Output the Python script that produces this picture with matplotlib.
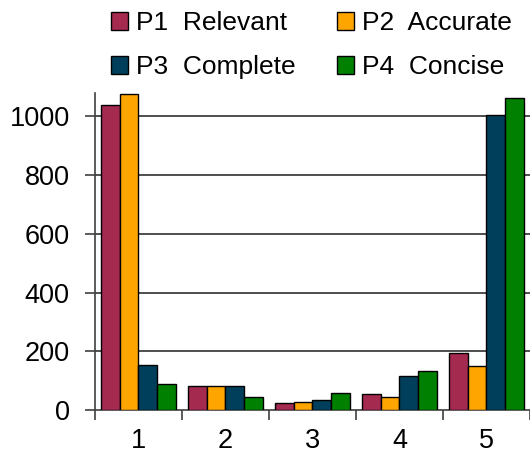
import numpy as np
import matplotlib.pyplot as plt

plt.rcParams.update({
    "font.family": ["Liberation Sans", "DejaVu Sans"],
    "axes.linewidth": 1.2,
})

# data
categorias = ["1", "2", "3", "4", "5"]
series = ["P1  Relevant", "P2  Accurate", "P3  Complete", "P4  Concise"]
p1 = [1040, 83, 23, 55, 195]
p2 = [1077, 83, 28, 43, 150]
p3 = [153, 83, 34, 114, 1006]
p4 = [89, 43, 59, 134, 1063]
valores = [p1, p2, p3, p4]
cores = ["#A52A50", "#FFA500", "#003F5C", "#008000"]

fig = plt.figure(figsize=(5.3, 4.53), dpi=100)
ax = fig.add_axes([0.179, 0.095, 0.821, 0.700])

x = np.arange(len(categorias))
largura = 0.214
barras = []
for i, (nome, vals, cor) in enumerate(zip(series, valores, cores)):
    b = ax.bar(x + (i - 1.5) * largura, vals, width=largura, color=cor,
               edgecolor="black", linewidth=1.0, label=nome, zorder=3)
    barras.append(b)

ax.set_xlim(-0.5, 4.5)
ax.set_ylim(0, 1080)

ax.set_yticks([0, 200, 400, 600, 800, 1000])
for y in [200, 400, 600, 800, 1000]:
    ax.axhline(y, color="#404040", linewidth=1.3, zorder=1)

ax.set_xticks(x)
ax.set_xticklabels(categorias)
ax.set_xticks(np.arange(-0.5, 5, 1), minor=True)
ax.tick_params(axis="x", which="major", length=0, pad=13, labelsize=19.5)
ax.tick_params(axis="x", which="minor", length=7, width=1.2, color="#404040")
ax.tick_params(axis="y", which="major", length=7, width=1.2, color="#404040",
               pad=11, labelsize=19.5)

for lado in ["top", "right"]:
    ax.spines[lado].set_visible(False)
for lado in ["left", "bottom"]:
    ax.spines[lado].set_color("#404040")

# legenda preenchida por linhas: P1 P2 / P3 P4
ordem = [0, 2, 1, 3]
fig.legend([barras[k] for k in ordem], [series[k] for k in ordem],
           loc="upper left", bbox_to_anchor=(0.210, 0.975), ncol=2,
           frameon=False, fontsize=19, handlelength=0.65, handleheight=0.65,
           handletextpad=0.3, columnspacing=1.55, labelspacing=0.75,
           borderpad=0, borderaxespad=0)

fig.savefig("out.png", dpi=100)
